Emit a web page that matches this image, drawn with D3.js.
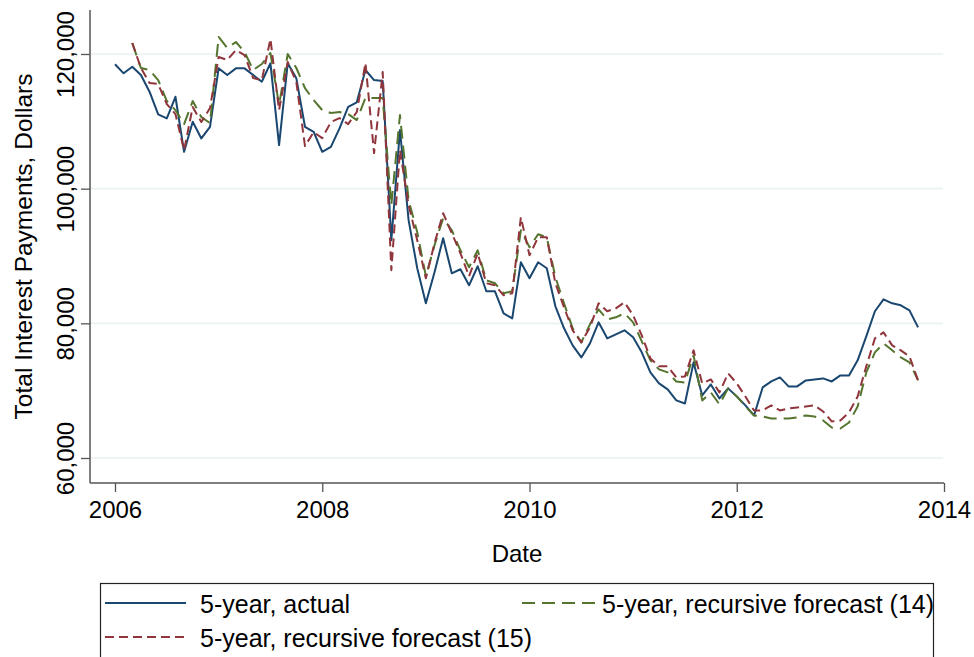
<!DOCTYPE html>
<html>
<head>
<meta charset="utf-8">
<script src="https://cdnjs.cloudflare.com/ajax/libs/d3/7.8.5/d3.min.js"></script>
<style>
  body { margin: 0; background: #fff; }
  svg text { font-family: "Liberation Sans", Arial, sans-serif; fill: #000; }
</style>
</head>
<body>
<div id="chart"></div>
<script>
// data, monthly from 2006m1
var startYear = 2006;
var xTicks = [2006, 2008, 2010, 2012, 2014];
var yTicks = [60000, 80000, 100000, 120000];

var actual = [
  118470, 117130, 118110, 116880, 114400, 111030, 110430, 113650, 105470, 109930, 107460, 109190,
  117870, 116880, 117870, 117870, 116880, 115880, 118620, 106470, 118620, 116390, 109190, 108450,
  105470, 106210, 108950, 112160, 112820, 117620, 116130, 115990, 92340, 108700, 95320, 88180,
  82970, 87580, 92640, 87430, 88030, 85650, 88480, 84760, 84760, 81490, 80740, 89070,
  86690, 89070, 88180, 82530, 79260, 76730, 74940, 77020, 80150, 77770, 78360, 78960,
  77920, 75690, 72710, 71080, 70190, 68550, 68100, 74200, 69290, 70930, 68850, 70340,
  69150, 67810, 66320, 70480, 71370, 71970, 70630, 70630, 71520, 71670, 71820, 71370,
  72270, 72270, 74500, 78070, 81790, 83570, 82970, 82680, 81930, 79400
];

var forecast14 = [
  null, null, 121630, 117920, 117620, 116130, 113010, 111670, 109590, 113010, 110630, 109740,
  122530, 120890, 121780, 120300, 117620, 118510, 120150, 112420, 120000, 117920, 114940, 113160,
  111670, 111230, 111380, 111080, 110190, 113460, 113460, 113460, 97550, 110930, 98290, 93530,
  86990, 91600, 95610, 93830, 90850, 88330, 90850, 86390, 85950, 84460, 84760, 93830,
  91300, 93230, 92790, 86840, 82970, 79260, 77170, 79850, 82080, 80590, 80890, 81490,
  80150, 77320, 74500, 73160, 72710, 71370, 71220, 75240, 68550, 69740, 67960, 70340,
  69140, 67660, 66320, 66170, 65870, 65870, 65870, 66020, 66320, 66170, 65580, 64530,
  64380, 65280, 67660, 72710, 75690, 77020, 75990, 74940, 74200, 71520
];

var forecast15 = [
  null, null, 121630, 117920, 115690, 115540, 112570, 111080, 105720, 112120, 109890, 111970,
  119550, 119110, 120590, 119850, 116430, 116130, 122230, 111670, 118810, 115840, 106320, 108400,
  107510, 109890, 110480, 109590, 111380, 118660, 105280, 117320, 87880, 105720, 97550, 92340,
  86690, 91900, 96360, 93380, 90410, 86990, 90410, 85950, 85650, 84160, 84460, 95760,
  90110, 92790, 92790, 85950, 82380, 78960, 77170, 79400, 82970, 81790, 82230, 83120,
  81190, 78210, 74790, 73610, 73610, 71970, 72120, 75990, 71080, 71670, 69740, 72560,
  71080, 69140, 67060, 67060, 67810, 67060, 67360, 67510, 67660, 67810, 66910, 65430,
  65580, 66770, 69140, 73610, 77770, 78660, 76730, 75990, 75090, 71520
];

var seriesNames = ["5-year, actual", "5-year, recursive forecast (14)", "5-year, recursive forecast (15)"];
var seriesColors = ["#1a476f", "#55752f", "#90353b"];
var seriesDash = [null, "13,7", "9,5"];

var width = 974, height = 657;
var axisLeft = 90, axisRight = 944, axisTop = 10, axisBottom = 483;

var dates = d3.range(actual.length).map(function (i) { return startYear + i / 12; });

var svg = d3.select("#chart").append("svg")
    .attr("width", width)
    .attr("height", height);

var x = d3.scaleLinear().domain([2006, 2014]).range([115, 944]);
var y = d3.scaleLinear().domain([60000, 120000]).range([458, 54]);

// gridlines
svg.append("g").selectAll("line")
    .data(yTicks)
    .enter().append("line")
    .attr("x1", axisLeft).attr("x2", axisRight - 1)
    .attr("y1", function (d) { return y(d); })
    .attr("y2", function (d) { return y(d); })
    .attr("stroke", "#eaf2f3")
    .attr("stroke-width", 1.6);

// y axis
var yAxis = svg.append("g")
    .attr("transform", "translate(" + axisLeft + ",0)")
    .call(d3.axisLeft(y).tickValues(yTicks).tickSizeOuter(0).tickSize(9).tickFormat(d3.format(",")));
yAxis.select(".domain").remove();
yAxis.selectAll(".tick line").attr("stroke", "#555").attr("stroke-width", 1.3);
yAxis.selectAll(".tick text")
    .attr("transform", "rotate(-90)")
    .attr("x", 0).attr("y", -16).attr("dy", 0)
    .attr("text-anchor", "middle")
    .style("font-size", "24px");
svg.append("line")
    .attr("x1", axisLeft).attr("x2", axisLeft)
    .attr("y1", axisTop).attr("y2", axisBottom)
    .attr("stroke", "#555").attr("stroke-width", 1.5);

// x axis
var xAxis = svg.append("g")
    .attr("transform", "translate(0," + axisBottom + ")")
    .call(d3.axisBottom(x).tickValues(xTicks).tickSizeOuter(0).tickSize(9).tickFormat(d3.format("d")));
xAxis.select(".domain").remove();
xAxis.selectAll(".tick line").attr("stroke", "#555").attr("stroke-width", 1.3);
xAxis.selectAll(".tick text")
    .attr("y", 35).attr("dy", 0)
    .style("font-size", "24px");
svg.append("line")
    .attr("x1", axisLeft).attr("x2", axisRight)
    .attr("y1", axisBottom).attr("y2", axisBottom)
    .attr("stroke", "#555").attr("stroke-width", 1.5);

// axis titles
svg.append("text")
    .attr("transform", "translate(32," + ((axisTop + axisBottom) / 2) + ") rotate(-90)")
    .attr("text-anchor", "middle")
    .style("font-size", "24.5px")
    .text("Total Interest Payments, Dollars");

svg.append("text")
    .attr("x", (axisLeft + axisRight) / 2)
    .attr("y", 562)
    .attr("text-anchor", "middle")
    .style("font-size", "24px")
    .text("Date");

// lines
var allSeries = [actual, forecast14, forecast15];
var line = d3.line()
    .defined(function (d) { return d.v !== null; })
    .x(function (d) { return x(d.t); })
    .y(function (d) { return y(d.v); });

allSeries.forEach(function (s, k) {
    var pts = s.map(function (v, i) { return { t: dates[i], v: v }; });
    svg.append("path")
        .datum(pts)
        .attr("fill", "none")
        .attr("stroke", seriesColors[k])
        .attr("stroke-width", 2)
        .attr("stroke-linejoin", "round")
        .attr("stroke-dasharray", seriesDash[k])
        .attr("d", line);
});

// legend
var legend = svg.append("g");
legend.append("rect")
    .attr("x", 100.5).attr("y", 583.5)
    .attr("width", 833).attr("height", 90)
    .attr("fill", "#fff")
    .attr("stroke", "#222")
    .attr("stroke-width", 1.2);

var legendItems = [
    { k: 0, x1: 105, x2: 186, tx: 200, row: 0 },
    { k: 1, x1: 522, x2: 597, tx: 602, row: 0 },
    { k: 2, x1: 105, x2: 186, tx: 200, row: 1 }
];
legendItems.forEach(function (it) {
    var ly = 603 + it.row * 34;
    legend.append("line")
        .attr("x1", it.x1).attr("x2", it.x2)
        .attr("y1", ly).attr("y2", ly)
        .attr("stroke", seriesColors[it.k])
        .attr("stroke-width", 2)
        .attr("stroke-dasharray", seriesDash[it.k]);
    legend.append("text")
        .attr("x", it.tx)
        .attr("y", ly + 10)
        .style("font-size", "25px")
        .text(seriesNames[it.k]);
});
</script>
</body>
</html>
